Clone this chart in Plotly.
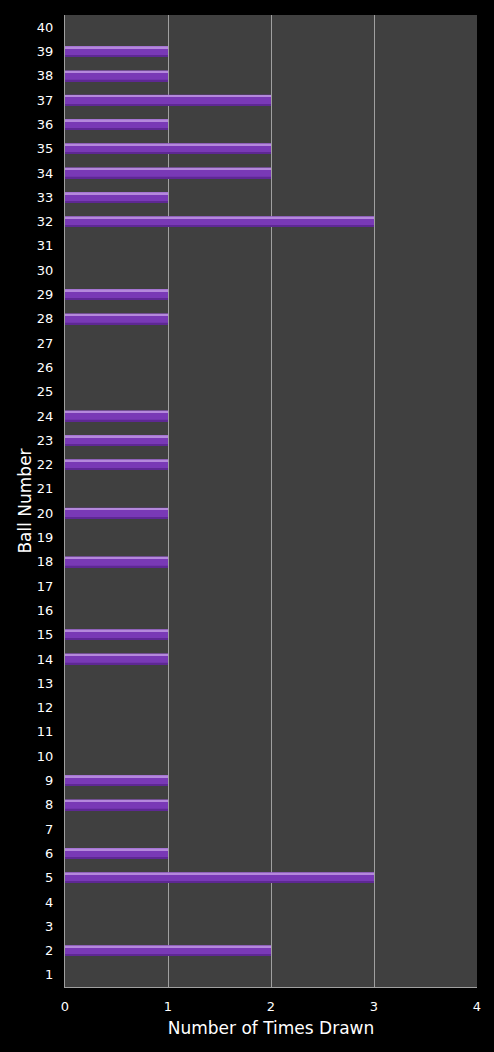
import plotly.graph_objects as go

# ball numbers 1..40 and how many times each was drawn
balls = list(range(1, 41))
times_drawn = [0, 2, 0, 0, 3, 1, 0, 1, 1, 0,
               0, 0, 0, 1, 1, 0, 0, 1, 0, 1,
               0, 1, 1, 1, 0, 0, 0, 1, 1, 0,
               0, 3, 1, 2, 2, 1, 2, 1, 1, 0]
x_ticks = [0, 1, 2, 3, 4]

font = "DejaVu Sans"

fig = go.Figure()
# main purple bar
fig.add_trace(go.Bar(
    x=times_drawn, y=balls, orientation="h",
    width=0.44, marker=dict(color="#7939B6", line=dict(width=0)),
    hoverinfo="x+y",
))
# light top edge to mimic the bevel
fig.add_trace(go.Bar(
    x=times_drawn, y=balls, orientation="h",
    width=0.08, offset=0.13, marker=dict(color="#B488DC", line=dict(width=0)),
    hoverinfo="skip",
))
# darker bottom edge
fig.add_trace(go.Bar(
    x=times_drawn, y=balls, orientation="h",
    width=0.06, offset=-0.22, marker=dict(color="#5E2894", line=dict(width=0)),
    hoverinfo="skip",
))

fig.update_layout(
    width=494, height=1052,
    barmode="overlay",
    showlegend=False,
    paper_bgcolor="#000000",
    plot_bgcolor="#404040",
    margin=dict(l=65, r=17, t=15, b=65),
    font=dict(family=font, color="#FFFFFF", size=13),
)
fig.update_xaxes(
    range=[0, 4], tickvals=x_ticks, ticks="",
    showgrid=True, gridcolor="#A0A0A0", gridwidth=1,
    showline=True, linecolor="#A0A0A0", linewidth=1,
    zeroline=False,
    ticklabelstandoff=7,
    title=dict(text="Number of Times Drawn", font=dict(size=17, family=font), standoff=9),
    tickfont=dict(size=13, family=font),
)
fig.update_yaxes(
    range=[0.5, 40.5], tickvals=balls, ticks="",
    showgrid=False,
    showline=True, linecolor="#A0A0A0", linewidth=1,
    zeroline=False,
    ticklabelstandoff=8,
    title=dict(text="Ball Number", font=dict(size=17, family=font), standoff=0),
    tickfont=dict(size=13, family=font),
)

# page has no margin so the black figure fills the window
fig.write_html(
    "out.html",
    config={"displayModeBar": False},
    post_script="document.body.style.margin='0';document.body.style.background='#000';",
)
